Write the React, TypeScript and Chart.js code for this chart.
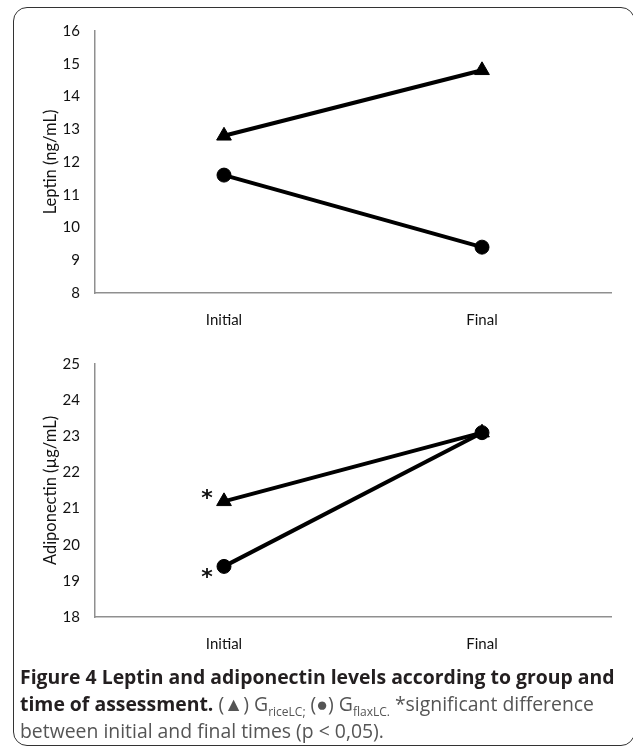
import React, { useEffect, useRef } from "react";
import { Chart, registerables } from "chart.js";

Chart.register(...registerables);

const categories = ["Initial", "Final"];
const leptinRice = [12.8, 14.8];
const leptinFlax = [11.6, 9.4];
const adipoRice = [21.2, 23.1];
const adipoFlax = [19.4, 23.1];
const adipoRiceSig = [true, false];
const adipoFlaxSig = [true, false];
const leptinRange = [8, 16];
const adipoRange = [18, 25];

const FONT = "Lato, 'Open Sans', sans-serif";
const CAPTION_FONT = "'Open Sans', 'Noto Sans', sans-serif";
const AXIS_COLOR = "#8f8f8f";
const TEXT_COLOR = "#111";

const asteriskPlugin = {
  id: "asterisks",
  afterDatasetsDraw(chart: any) {
    const ctx = chart.ctx;
    chart.data.datasets.forEach((ds: any, di: number) => {
      if (!ds.sig) return;
      const meta = chart.getDatasetMeta(di);
      ds.sig.forEach((on: boolean, i: number) => {
        if (!on) return;
        const pt = meta.data[i];
        ctx.save();
        ctx.font = "bold 22px 'DejaVu Sans', sans-serif";
        ctx.fillStyle = "#111";
        ctx.textAlign = "center";
        ctx.textBaseline = "alphabetic";
        ctx.fillText("*", pt.x - 17, pt.y + ds.sigDy);
        ctx.restore();
      });
    });
  },
};

function makeOptions(range: number[], title: string, padTop: number, xHeight: number) {
  return {
    responsive: false,
    animation: false as const,
    layout: { padding: { top: padTop, right: 22, left: 0, bottom: 0 } },
    plugins: { legend: { display: false }, tooltip: { enabled: false } },
    scales: {
      x: {
        type: "category" as const,
        offset: true,
        grid: { display: false, drawTicks: false },
        border: { display: true, color: AXIS_COLOR, width: 1.5 },
        ticks: { padding: 18, color: TEXT_COLOR, font: { family: FONT, size: 15 } },
        afterFit: (s: any) => {
          s.height = xHeight;
        },
      },
      y: {
        min: range[0],
        max: range[1],
        grid: { display: false, drawTicks: false },
        border: { display: true, color: AXIS_COLOR, width: 1.5 },
        ticks: { stepSize: 1, padding: 15, color: TEXT_COLOR, font: { family: FONT, size: 15 } },
        title: {
          display: true,
          text: title,
          color: TEXT_COLOR,
          font: { family: FONT, size: 16.5 },
          padding: { top: 41, bottom: 0 },
        },
        afterFit: (s: any) => {
          s.width = 95;
        },
      },
    },
  };
}

function lineDs(data: number[], style: string, radius: number, order: number, extra: any = {}) {
  return {
    data,
    borderColor: "#000",
    backgroundColor: "#000",
    borderWidth: 4,
    pointStyle: style,
    pointRadius: radius,
    pointBorderWidth: 1,
    pointBackgroundColor: "#000",
    pointBorderColor: "#000",
    tension: 0,
    order,
    ...extra,
  };
}

function LineChart(props: { config: any; width: number; height: number; top: number }) {
  const ref = useRef<HTMLCanvasElement>(null);
  useEffect(() => {
    const chart = new Chart(ref.current as HTMLCanvasElement, props.config);
    return () => chart.destroy();
  }, []);
  return (
    <canvas
      ref={ref}
      width={props.width}
      height={props.height}
      style={{ position: "absolute", left: 0, top: props.top, width: props.width, height: props.height }}
    />
  );
}

const subStyle: React.CSSProperties = {
  fontSize: 12,
  position: "relative",
  top: 5,
  lineHeight: 0,
};

export default function App() {
  const topConfig = {
    type: "line",
    data: {
      labels: categories,
      datasets: [
        lineDs(leptinRice, "triangle", 8.5, 1),
        lineDs(leptinFlax, "circle", 7, 0),
      ],
    },
    options: makeOptions(leptinRange, "Leptin (ng/mL)", 31, 47),
    plugins: [asteriskPlugin],
  };
  const bottomConfig = {
    type: "line",
    data: {
      labels: categories,
      datasets: [
        lineDs(adipoRice, "triangle", 8.5, 1, { sig: adipoRiceSig, sigDy: 4 }),
        lineDs(adipoFlax, "circle", 7, 0, { sig: adipoFlaxSig, sigDy: 18 }),
      ],
    },
    options: makeOptions(adipoRange, "Adiponectin (µg/mL)", 15, 53),
    plugins: [asteriskPlugin],
  };

  return (
    <div
      style={{
        position: "fixed",
        left: 0,
        top: 0,
        width: 633,
        height: 748,
        background: "#fff",
        overflow: "hidden",
      }}
    >
      <div
        style={{
          position: "absolute",
          left: 13,
          top: 7,
          width: 622,
          height: 739,
          boxSizing: "border-box",
          border: "1.5px solid #333",
          borderRadius: 14,
        }}
      />
      <LineChart config={topConfig} width={633} height={340} top={0} />
      <LineChart config={bottomConfig} width={633} height={330} top={340} />
      <div
        style={{
          position: "absolute",
          left: 20,
          top: 663,
          width: 612,
          fontFamily: CAPTION_FONT,
          fontSize: 19.4,
          lineHeight: "27px",
          color: "#555",
          whiteSpace: "nowrap",
        }}
      >
        <div>
          <b style={{ color: "#231f20" }}>Figure 4 Leptin and adiponectin levels according to group and</b>
        </div>
        <div>
          <b style={{ color: "#231f20" }}>time of assessment.</b> (▲) G<span style={subStyle}>riceLC;</span> (●) G
          <span style={subStyle}>flaxLC.</span> *significant difference
        </div>
        <div>between initial and final times (p &lt; 0,05).</div>
      </div>
    </div>
  );
}
